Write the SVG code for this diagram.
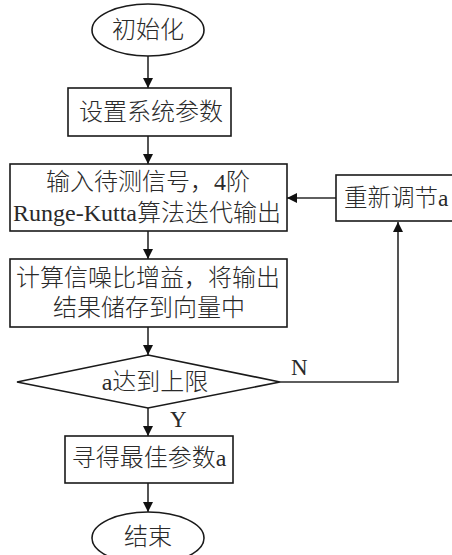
<svg xmlns="http://www.w3.org/2000/svg" width="452" height="555" viewBox="0 0 452 555">
<defs>
<style>
.s{fill:#fff;stroke:#1a1a1a;stroke-width:1.6}
.c{fill:none;stroke:#2a2a2a;stroke-width:1.6}
.t{font-family:"Liberation Serif","Noto Sans CJK SC",serif;font-size:24px;font-weight:300;fill:#2a2a2a;text-anchor:middle}
.l{font-family:"Liberation Serif",serif;font-size:23px;fill:#2a2a2a}
</style>
<marker id="ah" markerWidth="10" markerHeight="10" refX="10" refY="5" orient="auto" markerUnits="userSpaceOnUse">
<path d="M0,0 L10,5 L0,10 Z" fill="#111"/>
</marker>
</defs>
<rect width="452" height="555" fill="#fff"/>
<g id="connectors">
<line class="c" x1="148" y1="56" x2="148" y2="88" marker-end="url(#ah)"/>
<line class="c" x1="148" y1="136" x2="148" y2="164" marker-end="url(#ah)"/>
<line class="c" x1="148" y1="231" x2="148" y2="259" marker-end="url(#ah)"/>
<line class="c" x1="148" y1="327" x2="148" y2="355" marker-end="url(#ah)"/>
<line class="c" x1="148" y1="408" x2="148" y2="436" marker-end="url(#ah)"/>
<line class="c" x1="148" y1="483" x2="148" y2="512" marker-end="url(#ah)"/>
<line class="c" x1="336" y1="198" x2="287" y2="198" marker-end="url(#ah)"/>
<polyline class="c" points="280,382 398,382 398,222" marker-end="url(#ah)"/>
<text class="l" x="291" y="375">N</text>
<text class="l" x="170" y="427">Y</text>
</g>
<g id="start">
<ellipse class="s" cx="148" cy="30" rx="56" ry="26"/>
<text class="t" x="148" y="38">初始化</text>
</g>
<g id="setup">
<rect class="s" x="68" y="88" width="163" height="48"/>
<text class="t" x="151" y="120">设置系统参数</text>
</g>
<g id="iterate">
<rect class="s" x="10" y="164" width="277" height="67"/>
<text class="t" x="148" y="190">输入待测信号，4阶</text>
<text class="t" x="147" y="221">Runge-Kutta算法迭代输出</text>
</g>
<g id="compute">
<rect class="s" x="10" y="259" width="277" height="68"/>
<text class="t" x="148" y="286">计算信噪比增益，将输出</text>
<text class="t" x="149" y="316">结果储存到向量中</text>
</g>
<g id="decision">
<polygon class="s" points="148,355 280,382 148,408 17,382"/>
<text class="t" x="155" y="390">a达到上限</text>
</g>
<g id="adjust">
<rect class="s" x="336" y="175" width="130" height="46"/>
<text class="t" x="344" y="206" style="text-anchor:start;font-size:23.5px">重新调节a</text>
</g>
<g id="best">
<rect class="s" x="65" y="436" width="168" height="47"/>
<text class="t" x="149" y="466">寻得最佳参数a</text>
</g>
<g id="end">
<ellipse class="s" cx="148" cy="538" rx="56" ry="26"/>
<text class="t" x="148" y="545">结束</text>
</g>
</svg>
